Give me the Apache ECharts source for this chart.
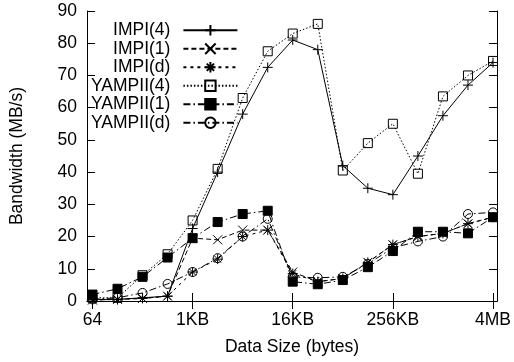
<!DOCTYPE html>
<html><head><meta charset="utf-8">
<script src="https://cdn.jsdelivr.net/npm/echarts@6/dist/echarts.min.js"></script>
<style>html,body{margin:0;padding:0;background:#fff}#c{width:514px;height:362px}</style>
</head><body><div id="c"></div>
<script>
// Data sizes in bytes (64 B .. 4 MB)
const sizes = [64,128,256,512,1024,2048,4096,8192,16384,32768,65536,131072,262144,524288,1048576,2097152,4194304];
const tickValues = [64,1024,16384,262144,4194304];
const tickLabels = ['64','1KB','16KB','256KB','4MB'];
const seriesNames = ['IMPI(4)','IMPI(1)','IMPI(d)','YAMPII(4)','YAMPII(1)','YAMPII(d)'];
const impi4   = [0.5,0.5,1,1.5,22.5,40,58,72.5,81,78,42,35,33,45,57.5,67,74];
const impi1   = [0.3,0.5,0.8,1.5,19.5,19,22,22,9,6,7,12,17.5,20,21,24,26];
const impid   = [0.3,0.5,0.8,1.5,9,13,20,22,8.5,6,7,12,17.5,20,21,24,26];
const yampii4 = [1,1,8,14.5,25,41,63,77.5,83,86,40.5,49,55,39.5,63.5,70,74.5];
const yampii1 = [2,3.8,7.5,13.5,19.5,24.5,27,28,6,5.2,6.5,10.5,15.5,21.5,21.5,21,26];
const yampiid = [0.5,1,2.5,5.3,9,13.3,20,25.5,7.5,7.2,7.5,11.5,16.5,18.5,20,27,27.5];

const FONT = 'Liberation Sans';
const FS = 17.5;
const plus = 'path://M-5,0L5,0M0,-5L0,5';
const cross = 'path://M-4,-4L4,4M-4,4L4,-4';
const star = 'path://M-5,0L5,0M0,-5L0,5M-3.5,-3.5L3.5,3.5M-3.5,3.5L3.5,-3.5';

function mk(name, vals, symbol, size, lineType, fill) {
  return {
    name: name, type: 'line',
    data: sizes.map((s, i) => [s, vals[i]]),
    symbol: symbol, symbolSize: size, showAllSymbol: true,
    lineStyle: {color: '#000', width: 1, type: lineType},
    itemStyle: {color: fill, borderColor: '#000', borderWidth: 1},
    emphasis: {disabled: true},
    animation: false
  };
}

const labelMap = {};
tickValues.forEach((v, i) => labelMap[v] = tickLabels[i]);

const chart = echarts.init(document.getElementById('c'), null, {renderer: 'canvas'});
const xCommon = {
  type: 'log', logBase: 2, min: 55, max: 4.69e6,
  axisLine: {show: true, lineStyle: {color: '#000', width: 1}},
  splitLine: {show: false}
};
const yCommon = {
  type: 'value', min: 0, max: 90, interval: 10,
  axisLine: {show: true, lineStyle: {color: '#000', width: 1}},
  splitLine: {show: false}
};
chart.setOption({
  animation: false,
  grid: {left: 87, right: 16, top: 11, bottom: 61, containLabel: false},
  xAxis: [
    Object.assign({}, xCommon, {
      position: 'bottom',
      name: 'Data Size (bytes)', nameLocation: 'middle', nameGap: 37,
      nameTextStyle: {fontFamily: FONT, fontSize: FS, color: '#000'},
      axisTick: {show: true, inside: true, length: 8, customValues: tickValues, lineStyle: {color: '#000'}},
      axisLabel: {show: true, customValues: tickValues, margin: 10, fontFamily: FONT, fontSize: FS, color: '#000',
        formatter: v => labelMap[Math.round(v)] || ''}
    }),
    Object.assign({}, xCommon, {
      position: 'top',
      axisTick: {show: true, inside: true, length: 8, customValues: tickValues, lineStyle: {color: '#000'}},
      axisLabel: {show: false}
    })
  ],
  yAxis: [
    Object.assign({}, yCommon, {
      position: 'left',
      name: 'Bandwidth (MB/s)', nameLocation: 'middle', nameGap: 61,
      nameTextStyle: {fontFamily: FONT, fontSize: FS, color: '#000'},
      axisTick: {show: true, inside: true, length: 8, lineStyle: {color: '#000'}},
      axisLabel: {margin: 10, fontFamily: FONT, fontSize: FS, color: '#000'}
    }),
    Object.assign({}, yCommon, {
      position: 'right',
      axisTick: {show: true, inside: true, length: 8, lineStyle: {color: '#000'}},
      axisLabel: {show: false}
    })
  ],
  legend: {
    orient: 'vertical', align: 'right', left: 86, top: 16,
    itemWidth: 54, itemHeight: 13, itemGap: 0,
    textStyle: {fontFamily: FONT, fontSize: FS, color: '#000', lineHeight: 18.5, padding: [0, 8, 0, 0]},
    data: seriesNames,
    selectedMode: false
  },
  series: [
    mk(seriesNames[0], impi4, plus, 10, 'solid', 'transparent'),
    mk(seriesNames[1], impi1, cross, 9, [5, 3], 'transparent'),
    mk(seriesNames[2], impid, star, 10, [3, 4], 'transparent'),
    mk(seriesNames[3], yampii4, 'rect', 9, [1.5, 2], 'transparent'),
    mk(seriesNames[4], yampii1, 'rect', 9, [7, 3, 1.5, 3], '#000'),
    mk(seriesNames[5], yampiid, 'circle', 9, [7, 3, 1.5, 3], 'transparent')
  ]
});
</script></body></html>
